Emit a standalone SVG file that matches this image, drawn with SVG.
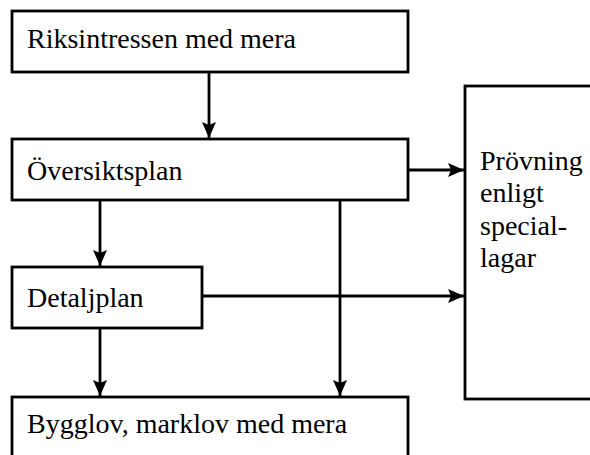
<svg xmlns="http://www.w3.org/2000/svg" width="590" height="455" viewBox="0 0 590 455">
<style>
.box{fill:#fff;stroke:#000;stroke-width:2.8}
.t{font-family:"Liberation Serif","Times New Roman",serif;font-size:28px;fill:#000}
.c{fill:none;stroke:#000;stroke-width:2.8}
</style>
<defs>
<marker id="ah" markerWidth="18" markerHeight="14" refX="16" refY="7" orient="auto" markerUnits="userSpaceOnUse">
<path d="M0,0 L16,7 L0,14 L3,7 Z" fill="#000"/>
</marker>
</defs>
<rect width="590" height="455" fill="#fff"/>
<g id="n1"><rect class="box" x="12" y="11" width="396" height="61"/><text class="t" x="27" y="48">Riksintressen med mera</text></g>
<g id="n2"><rect class="box" x="12" y="139" width="396" height="61"/><text class="t" x="27" y="180">Översiktsplan</text></g>
<g id="n3"><rect class="box" x="12" y="267" width="190" height="61"/><text class="t" x="27" y="307">Detaljplan</text></g>
<g id="n4"><rect class="box" x="12" y="397" width="396" height="70"/><text class="t" x="27" y="433">Bygglov, marklov med mera</text></g>
<g id="n5"><rect class="box" x="465" y="86" width="140" height="313"/><text class="t" x="480" y="170">Prövning</text><text class="t" x="480" y="202">enligt</text><text class="t" x="480" y="235">special-</text><text class="t" x="480" y="267">lagar</text></g>
<g id="connectors">
<line class="c" x1="209" y1="72" x2="209" y2="138" marker-end="url(#ah)"/>
<line class="c" x1="408" y1="170" x2="464" y2="170" marker-end="url(#ah)"/>
<line class="c" x1="100" y1="200" x2="100" y2="266" marker-end="url(#ah)"/>
<line class="c" x1="340" y1="200" x2="340" y2="396" marker-end="url(#ah)"/>
<line class="c" x1="202" y1="296" x2="464" y2="296" marker-end="url(#ah)"/>
<line class="c" x1="100" y1="328" x2="100" y2="396" marker-end="url(#ah)"/>
</g>
</svg>
